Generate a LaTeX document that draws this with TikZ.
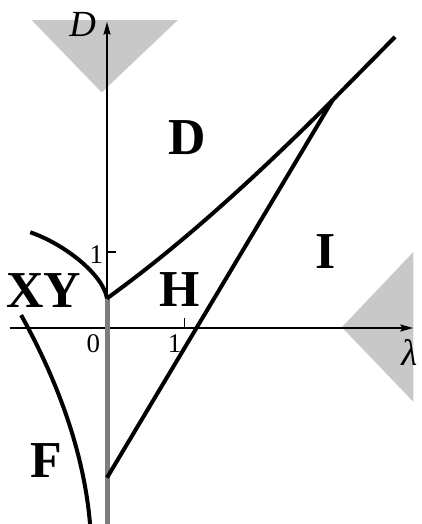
\documentclass[tikz,border=0pt]{standalone}
\usepackage{fontspec}
\setmainfont{Liberation Serif}
\usetikzlibrary{arrows.meta}
\definecolor{shadegray}{RGB}{200,200,200}
\definecolor{bargray}{RGB}{125,125,125}
\tikzset{
  axisline/.style={black, line width=1.8bp,
    -{Stealth[length=13bp,width=7bp,inset=2bp]}},
  tickline/.style={black, line width=1.1bp},
  boundary/.style={black, line width=4bp},
  shadearea/.style={fill=shadegray},
  regionlabel/.style={font=\fontsize{52}{52}\selectfont\bfseries, inner sep=0pt},
  axislabel/.style={font=\fontsize{37}{37}\selectfont\itshape, inner sep=0pt},
  ticklabel/.style={font=\fontsize{27}{27}\selectfont, inner sep=0pt}
}

\begin{document}
\begin{tikzpicture}[x=76bp,y=76bp]
  \useasboundingbox (-1.408,-2.579) rectangle (4.132,4.316);

  % Shaded wedges at the axis ends
  \fill[shadearea] (-0.99,4.05) -- (0.93,4.05) -- (-0.07,3.10) -- cycle;
  \fill[shadearea] (3.09,0.01) -- (4.03,1.00) -- (4.03,-0.97) -- cycle;

  % Key points
  \coordinate (cusp) at (0,0.39);
  \coordinate (meet) at (2.97,3.00);

  % Axes and ticks
  \draw[axisline] (-1.28,0) -- (4.03,0);
  \draw[axisline] (cusp) -- (0,4.03);
  \draw[bargray, line width=5bp] (cusp) -- (0,-2.62);
  \draw[tickline] (0,1) -- (0.12,1);
  \draw[tickline] (1.02,0) -- (1.02,0.13);
  \node[axislabel] (dlabel) at (-0.32,4.00) {D};
  \node[axislabel] (llabel) at (3.98,-0.32) {λ};
  \node[ticklabel] (zero) at (-0.18,-0.20) {0};
  \node[ticklabel] (onex) at (0.89,-0.20) {1};
  \node[ticklabel] (oney) at (-0.14,0.96) {1};

  % Phase boundaries
  \draw[boundary] (cusp) .. controls (-0.05,0.70) and (-0.55,1.10) .. (-1.01,1.26);
  \draw[boundary] (cusp) .. controls (1.00,1.11) and (2.00,2.03) .. (meet)
    -- (3.79,3.83);
  \draw[boundary] (0,-1.97) -- (meet);
  \draw[boundary] (-1.13,0.17) .. controls (-0.62,-0.75) and (-0.29,-1.70)
    .. (-0.22,-2.62);

  % Region labels
  \node[regionlabel] (regD) at (1.05,2.50) {D};
  \node[regionlabel] (regXY) at (-0.83,0.49) {XY};
  \node[regionlabel] (regH) at (0.95,0.51) {H};
  \node[regionlabel] (regI) at (2.88,1.01) {I};
  \node[regionlabel] (regF) at (-0.80,-1.75) {F};
\end{tikzpicture}
\end{document}
